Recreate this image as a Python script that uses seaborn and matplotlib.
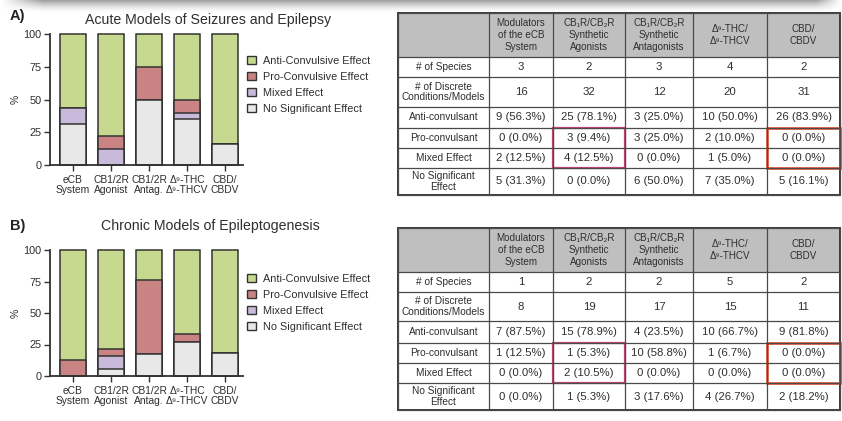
import math

import matplotlib.pyplot as plt
import numpy as np
import pandas as pd
import seaborn as sns
from matplotlib.patches import Patch, Rectangle

sns.set_style("ticks")
plt.rcParams['font.family'] = ['Liberation Sans', 'DejaVu Sans']

GROUP_LABELS = ["eCB\nSystem", "CB1/2R\nAgonist", "CB1/2R\nAntag.",
                "Δ⁹-THC\nΔ⁹-THCV", "CBD/\nCBDV"]
TABLE_HEADERS = ["Modulators\nof the eCB\nSystem", "CB₁R/CB₂R\nSynthetic\nAgonists",
                 "CB₁R/CB₂R\nSynthetic\nAntagonists", "Δ⁹-THC/\nΔ⁹-THCV", "CBD/\nCBDV"]
ROW_LABELS = ["# of Species", "# of Discrete\nConditions/Models", "Anti-convulsant",
              "Pro-convulsant", "Mixed Effect", "No Significant\nEffect"]
LEGEND_LABELS = ["Anti-Convulsive Effect", "Pro-Convulsive Effect",
                 "Mixed Effect", "No Significant Effect"]

acute_species = [3, 2, 3, 4, 2]
acute_models = [16, 32, 12, 20, 31]
acute_anti = [9, 25, 3, 10, 26]
acute_pro = [0, 3, 3, 2, 0]
acute_mixed = [2, 4, 0, 1, 0]
acute_none = [5, 0, 6, 7, 5]

chronic_species = [1, 2, 2, 5, 2]
chronic_models = [8, 19, 17, 15, 11]
chronic_anti = [7, 15, 4, 10, 9]
chronic_pro = [1, 1, 10, 1, 0]
chronic_mixed = [0, 2, 0, 0, 0]
chronic_none = [0, 1, 3, 4, 2]

# --- estilo ---
C_ANTI = "#c6d98f"
C_PRO = "#c98383"
C_MIXED = "#c9badb"
C_NONE = "#e8e8e8"
EDGE = "#333333"
TXT = "#2e2e2e"
W, H = 842, 421

# layout das tabelas (pixels)
COL_EDGES = [398, 489, 553, 625, 693, 767, 840]
ROW_EDGES_A = [13, 57, 77, 107, 128, 148, 168, 195]
ROW_EDGES_B = [228, 272, 292, 321, 343, 363, 383, 410]


def pct_text(n, total):
    p = math.floor(n / total * 1000 + 0.5) / 10
    return f"{n} ({p:.1f}%)"


def stacked_bars(ax, anti, pro, mixed, none):
    df = pd.DataFrame({'grupo': GROUP_LABELS, 'anti': anti, 'pro': pro,
                       'mixed': mixed, 'none': none})
    total = df[['anti', 'pro', 'mixed', 'none']].sum(axis=1)
    df['n1'] = df['none'] / total * 100
    df['n2'] = (df['none'] + df['mixed']) / total * 100
    df['n3'] = (df['none'] + df['mixed'] + df['pro']) / total * 100
    df['n4'] = (df['none'] + df['mixed'] + df['pro'] + df['anti']) / total * 100
    for col, color in [('n4', C_ANTI), ('n3', C_PRO), ('n2', C_MIXED), ('n1', C_NONE)]:
        sns.barplot(data=df, x='grupo', y=col, color=color, width=0.68, saturation=1,
                    edgecolor=EDGE, linewidth=1.1, errorbar=None, ax=ax)
    for p in ax.patches:
        p.set_clip_on(False)
    ax.set_xlim(-0.605, 4.47)
    ax.set_ylim(0, 100)
    ax.set_yticks([0, 25, 50, 75, 100])
    ax.set_xlabel('')
    ax.set_ylabel('%', fontsize=7.5, labelpad=2, color=TXT)
    ax.tick_params(axis='y', labelsize=7.8, length=4, width=1, color=EDGE,
                   labelcolor=TXT, pad=2)
    ax.tick_params(axis='x', labelsize=7.4, length=4, width=1, color=EDGE,
                   labelcolor=TXT, pad=3)
    for lab in ax.get_xticklabels():
        lab.set_linespacing(1.05)
    for s in ['left', 'bottom']:
        ax.spines[s].set_linewidth(1.3)
        ax.spines[s].set_color(EDGE)
    sns.despine(ax=ax)


def draw_table(ax, rows, species, models, anti, pro, mixed, none):
    top, bottom = rows[0], rows[-1]
    left, right = COL_EDGES[0], COL_EDGES[-1]
    ax.add_patch(Rectangle((left, top), right - left, rows[1] - top,
                           facecolor="#bfbfbf", edgecolor='none'))
    for y in rows:
        ax.plot([left, right], [y, y], color="#4a4a4a", lw=0.9)
    for x in COL_EDGES:
        ax.plot([x, x], [top, bottom], color="#4a4a4a", lw=0.9)
    ax.add_patch(Rectangle((left, top), right - left, bottom - top,
                           fill=False, edgecolor="#3a3a3a", lw=1.4))
    xc = [(COL_EDGES[i] + COL_EDGES[i + 1]) / 2 for i in range(6)]
    yc = [(rows[i] + rows[i + 1]) / 2 for i in range(7)]
    for j, h in enumerate(TABLE_HEADERS):
        ax.text(xc[j + 1], yc[0], h, ha='center', va='center', fontsize=7.1,
                color=TXT, linespacing=1.2)
    for i, lab in enumerate(ROW_LABELS):
        ax.text(xc[0], yc[i + 1], lab, ha='center', va='center', fontsize=7.3,
                color=TXT, linespacing=1.05)
    for j in range(5):
        total = models[j]
        vals = [str(species[j]), str(models[j]), pct_text(anti[j], total),
                pct_text(pro[j], total), pct_text(mixed[j], total),
                pct_text(none[j], total)]
        for i, v in enumerate(vals):
            ax.text(xc[j + 1], yc[i + 1], v, ha='center', va='center',
                    fontsize=8.2, color=TXT)
    # caixas de destaque
    ax.add_patch(Rectangle((COL_EDGES[2], rows[4]), COL_EDGES[3] - COL_EDGES[2],
                           rows[6] - rows[4], fill=False, edgecolor="#c8457a", lw=1.6))
    ax.add_patch(Rectangle((COL_EDGES[5], rows[4]), COL_EDGES[6] - COL_EDGES[5],
                           rows[6] - rows[4], fill=False, edgecolor="#e2401f", lw=1.8))


fig = plt.figure(figsize=(W / 100, H / 100), dpi=100)

# sombra cinza no topo
ax_sh = fig.add_axes([0, 1 - 13 / H, 1, 13 / H])
gy = np.linspace(1, 0, 30)[:, None] ** 1.6
gx = np.clip(np.minimum(np.linspace(0, 1, 400) / 0.05, np.linspace(1, 0, 400) / 0.03), 0, 1)[None, :]
shade = 1 - 0.38 * gy * gx
ax_sh.imshow(shade, cmap='gray', vmin=0, vmax=1, aspect='auto', extent=[0, 1, 0, 1])
ax_sh.axis('off')

ax_a = fig.add_axes([50 / W, 1 - 165 / H, 193 / W, 131 / H])
stacked_bars(ax_a, acute_anti, acute_pro, acute_mixed, acute_none)

ax_b = fig.add_axes([50 / W, 1 - 376 / H, 193 / W, 126 / H])
stacked_bars(ax_b, chronic_anti, chronic_pro, chronic_mixed, chronic_none)

handles = [Patch(facecolor=c, edgecolor=EDGE, linewidth=1.0)
           for c in [C_ANTI, C_PRO, C_MIXED, C_NONE]]
for y0 in [56, 274]:
    fig.legend(handles, LEGEND_LABELS, loc='upper left', bbox_to_anchor=(247 / W, 1 - y0 / H),
               frameon=False, fontsize=7.8, handlelength=0.8, handleheight=0.8,
               handletextpad=0.7, labelspacing=0.55, borderpad=0, borderaxespad=0,
               labelcolor=TXT)

fig.text(10 / W, 1 - 16 / H, "A)", fontsize=10.5, fontweight='bold', va='center', color="#222222")
fig.text(10 / W, 1 - 226 / H, "B)", fontsize=10.5, fontweight='bold', va='center', color="#222222")
fig.text(208 / W, 1 - 20 / H, "Acute Models of Seizures and Epilepsy", fontsize=10.2,
         ha='center', va='center', color=TXT)
fig.text(210 / W, 1 - 226 / H, "Chronic Models of Epileptogenesis", fontsize=10.2,
         ha='center', va='center', color=TXT)

ax_t = fig.add_axes([0, 0, 1, 1], facecolor='none')
ax_t.set_xlim(0, W)
ax_t.set_ylim(H, 0)
ax_t.axis('off')
draw_table(ax_t, ROW_EDGES_A, acute_species, acute_models,
           acute_anti, acute_pro, acute_mixed, acute_none)
draw_table(ax_t, ROW_EDGES_B, chronic_species, chronic_models,
           chronic_anti, chronic_pro, chronic_mixed, chronic_none)

fig.savefig("out.png", dpi=100)
